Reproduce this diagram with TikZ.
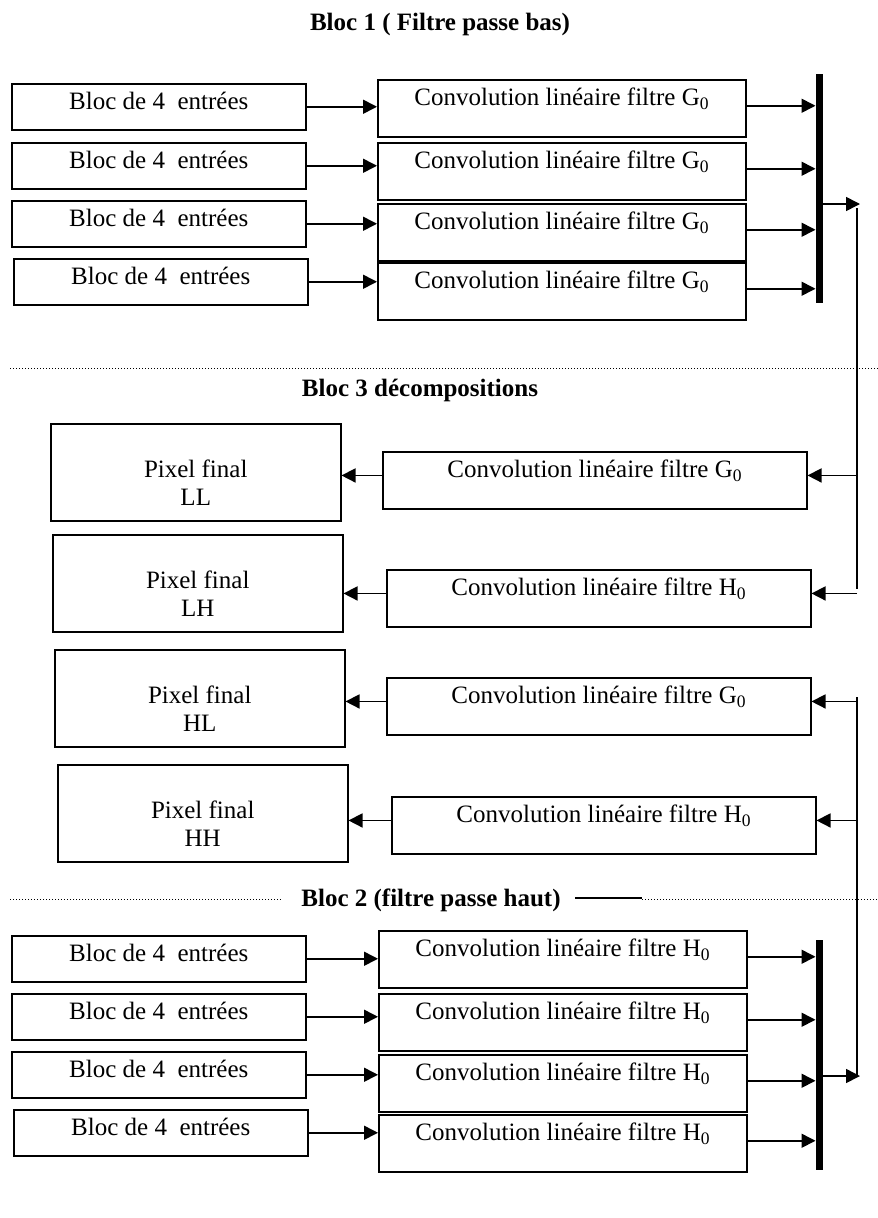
\documentclass[tikz,border=0pt]{standalone}
\usepackage{fontspec}
\setmainfont{Liberation Serif}
\usetikzlibrary{arrows.meta}

\newcommand{\pixeltxt}[1]{\begin{tabular}[t]{@{}c@{}}Pixel final\\#1\end{tabular}}

\tikzset{
  every node/.style={font=\fontsize{25}{28}\selectfont},
  boite/.style={draw, line width=1.5pt, anchor=north west},
  entree/.style={boite, minimum width=294pt, text height=22pt, text depth=16pt, inner ysep=4pt},
  conv/.style={boite, minimum width=368pt, text height=20pt, text depth=25pt, inner ysep=6pt},
  pixel/.style={boite, minimum width=290pt, text height=54pt, text depth=43pt, inner ysep=0pt},
  fleche/.style={-{Triangle[length=14pt,width=14pt]}, line width=1.6pt},
  barre/.style={line width=7pt},
  ligne/.style={line width=2.5pt},
  titre/.style={font=\fontsize{25}{28}\selectfont\bfseries},
  pointille/.style={dotted, line width=1pt}
}

\begin{document}
\begin{tikzpicture}[x=1pt, y=-1pt]
  \useasboundingbox (0,0) rectangle (878,1218);

  % Bloc 1
  \node[titre] (t1) at (440,24) {Bloc 1 ( Filtre passe bas)};
  \foreach \i/\xe/\ye/\yc in {1/11/83/79, 2/11/142/142, 3/11/200/203, 4/13/258/262}{
    \node[entree] (eG\i) at (\xe,\ye) {Bloc de 4~~entrées};
    \node[conv] (cG\i) at (377,\yc) {Convolution linéaire filtre G\textsubscript{0}};
    \draw[fleche] (eG\i.east) -- (cG\i.west |- eG\i.east);
  }
  \coordinate (barGh) at (819,74);
  \coordinate (barGb) at (819,303);
  \foreach \i in {1,...,4}
    \draw[fleche, shorten >=3.5pt] (cG\i.base east) -- (barGh |- cG\i.base east);
  \draw[barre] (barGh) -- (barGb);
  \coordinate (sortieG) at (860,204);
  \draw[fleche] (barGh |- sortieG) -- (sortieG);
  \coordinate (descG) at (857,208);
  \coordinate (descGb) at (857,589);
  \draw[ligne] (descG) -- (descGb);

  \draw[pointille] (10,368) -- (878,368);

  % Bloc 3
  \node[titre] (t3) at (420,390) {Bloc 3 décompositions};
  \foreach \n/\xp/\yp/\xc/\yc/\f in {LL/50/423/382/451/G, LH/52/534/386/569/H,
                                     HL/54/649/386/677/G, HH/57/764/391/796/H}{
    \node[pixel] (p\n) at (\xp,\yp) {\pixeltxt{\n}};
    \node[conv, minimum width=424pt] (c\n) at (\xc,\yc) {Convolution linéaire filtre \f\textsubscript{0}};
    \draw[fleche] (c\n.mid west) -- (p\n.east |- c\n.mid west);
  }
  \draw[fleche] (descG |- cLL.mid east) -- (cLL.mid east);
  \draw[fleche] (descGb |- cLH.mid east) -- (cLH.mid east);

  \coordinate (montH) at (857,697);
  \coordinate (montHb) at (857,1077);
  \draw[ligne] (montH) -- (montHb);
  \draw[fleche] (montH |- cHL.mid east) -- (cHL.mid east);
  \draw[fleche] (montH |- cHH.mid east) -- (cHH.mid east);

  % Bloc 2
  \node[titre] (t2) at (431,900) {Bloc 2 (filtre passe haut)};
  \draw[pointille] (10,899) -- (282,899);
  \draw[line width=1.5pt] (575,898) -- (642,898);
  \draw[pointille] (642,899) -- (878,899);
  \foreach \i/\xe/\ye/\yc in {1/11/935/930, 2/11/993/993, 3/11/1051/1054, 4/13/1109/1114}{
    \node[entree] (eH\i) at (\xe,\ye) {Bloc de 4~~entrées};
    \node[conv] (cH\i) at (378,\yc) {Convolution linéaire filtre H\textsubscript{0}};
    \draw[fleche] (eH\i.east) -- (cH\i.west |- eH\i.east);
  }
  \coordinate (barHh) at (819,940);
  \coordinate (barHb) at (819,1170);
  \foreach \i in {1,...,4}
    \draw[fleche, shorten >=3.5pt] (cH\i.base east) -- (barHh |- cH\i.base east);
  \draw[barre] (barHh) -- (barHb);
  \coordinate (sortieH) at (860,1076);
  \draw[fleche] (barHh |- sortieH) -- (sortieH);
\end{tikzpicture}
\end{document}
